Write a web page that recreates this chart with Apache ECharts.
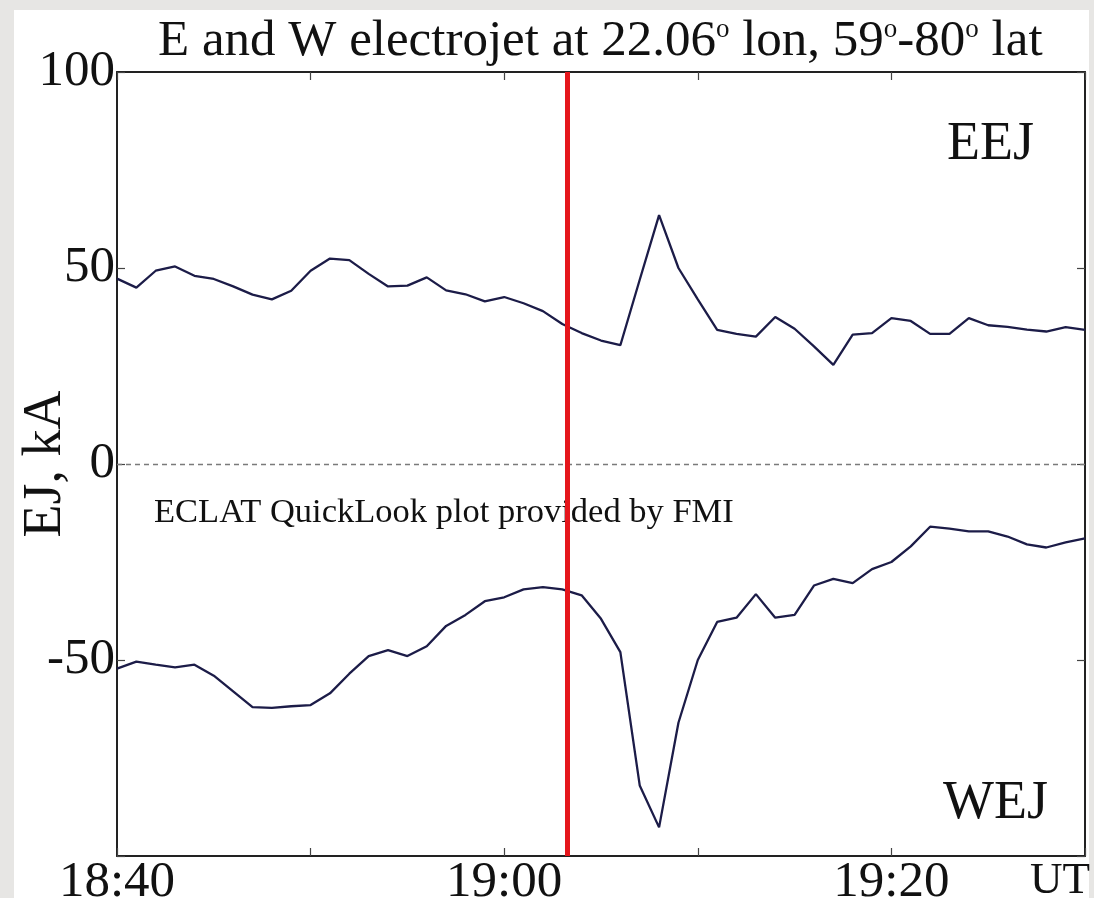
<!DOCTYPE html>
<html>
<head>
<meta charset="utf-8">
<script src="https://cdn.jsdelivr.net/npm/echarts@6/dist/echarts.min.js"></script>
<style>
  html, body { margin: 0; padding: 0; background: #e7e6e4; }
  #paper { position: absolute; left: 14px; top: 10px; width: 1075px; height: 888px; background: #ffffff; }
  #chart { position: absolute; left: 0; top: 0; width: 1094px; height: 898px; }
</style>
</head>
<body>
<div id="paper"></div>
<div id="chart"></div>
<script>
// minutes after 18:40 UT
const minutes = [0,1,2,3,4,5,6,7,8,9,10,11,12,13,14,15,16,17,18,19,20,21,22,23,24,25,26,27,28,29,30,31,32,33,34,35,36,37,38,39,40,41,42,43,44,45,46,47,48,49,50];
// Eastward electrojet (kA)
const eej = [47.3,45.0,49.3,50.4,48.0,47.2,45.3,43.2,42.0,44.2,49.3,52.4,52.0,48.5,45.3,45.5,47.6,44.3,43.3,41.5,42.6,41.0,39.0,35.7,33.4,31.5,30.3,47.0,63.5,50.0,42.0,34.2,33.2,32.5,37.5,34.5,30.0,25.3,33.0,33.4,37.2,36.5,33.2,33.2,37.2,35.4,35.0,34.3,33.8,34.9,34.2];
// Westward electrojet (kA)
const wej = [-52.2,-50.4,-51.2,-51.9,-51.2,-54.0,-58.0,-62.0,-62.2,-61.8,-61.5,-58.5,-53.5,-49.0,-47.5,-49.0,-46.5,-41.3,-38.5,-35.0,-34.0,-32.0,-31.4,-32.0,-33.5,-39.5,-48.0,-82.0,-92.7,-66.0,-50.0,-40.3,-39.2,-33.2,-39.2,-38.5,-31.0,-29.3,-30.4,-26.8,-25.0,-21.0,-16.0,-16.5,-17.2,-17.2,-18.5,-20.5,-21.3,-20.0,-19.0];
// x tick labels (minutes -> text)
const xTickLabels = {0: '18:40', 20: '19:00', 40: '19:20'};
const yTickLabels = {100: '100', 50: '50', 0: '0', '-50': '-50'};
const markerMinute = 23.25; // red vertical marker (~19:03.25 UT)

const serif = "'Liberation Serif', 'DejaVu Serif', serif";
const ink = '#111111';
const curve = '#1c1c48';

const chart = echarts.init(document.getElementById('chart'), null, {renderer: 'canvas'});

const axisCommonX = {
  type: 'value', min: 0, max: 50, interval: 10,
  axisLine: {show: true, onZero: false, lineStyle: {color: '#222', width: 2}},
  axisTick: {show: true, inside: true, length: 8, lineStyle: {color: '#444', width: 1.2}},
  splitLine: {show: false}
};
const axisCommonY = {
  type: 'value', min: -100, max: 100, interval: 50,
  axisLine: {show: true, onZero: false, lineStyle: {color: '#222', width: 2}},
  axisTick: {show: true, inside: true, length: 8, lineStyle: {color: '#444', width: 1.2}},
  splitLine: {show: false}
};

chart.setOption({
  animation: false,
  backgroundColor: 'transparent',
  title: {
    text: 'E and W electrojet at 22.06{s|o} lon, 59{s|o}-80{s|o} lat',
    left: 153, top: 11,
    textStyle: {
      fontFamily: serif, fontSize: 51, fontWeight: 'normal', color: ink,
      rich: {
        s: {fontFamily: serif, fontSize: 27, color: ink, verticalAlign: 'bottom', padding: [0, 0, 25, 0]}
      }
    }
  },
  grid: {left: 117, right: 9, top: 72, bottom: 42, containLabel: false, outerBoundsMode: 'none'},
  xAxis: [
    Object.assign({}, axisCommonX, {
      position: 'bottom',
      axisLabel: {
        show: true, margin: 1, fontFamily: serif, fontSize: 51, color: ink,
        showMinLabel: true, showMaxLabel: true, hideOverlap: false,
        formatter: v => xTickLabels[v] || ''
      }
    }),
    Object.assign({}, axisCommonX, {position: 'top', axisLabel: {show: false}})
  ],
  yAxis: [
    Object.assign({}, axisCommonY, {
      position: 'left',
      name: 'EJ, kA', nameLocation: 'middle', nameRotate: 90, nameGap: 44,
      nameMoveOverlap: false,
      nameTextStyle: {fontFamily: serif, fontSize: 54, color: ink},
      axisLabel: {
        show: true, margin: 2, fontFamily: serif, fontSize: 51, color: ink,
        showMinLabel: true, showMaxLabel: true, hideOverlap: false,
        formatter: v => (yTickLabels[v] !== undefined ? yTickLabels[v] : '')
      }
    }),
    Object.assign({}, axisCommonY, {position: 'right', axisLabel: {show: false}})
  ],
  series: [
    {
      name: 'EEJ', type: 'line', xAxisIndex: 0, yAxisIndex: 0,
      data: minutes.map((m, i) => [m, eej[i]]),
      showSymbol: false, smooth: false,
      lineStyle: {color: curve, width: 2.3},
      z: 3,
      markLine: {
        silent: true, symbol: 'none', label: {show: false},
        data: [
          {yAxis: 0, lineStyle: {type: [5, 4], color: '#7a7a7a', width: 1.3}},
          {xAxis: markerMinute, lineStyle: {type: 'solid', color: '#e5161c', width: 5}}
        ]
      }
    },
    {
      name: 'WEJ', type: 'line', xAxisIndex: 0, yAxisIndex: 0,
      data: minutes.map((m, i) => [m, wej[i]]),
      showSymbol: false, smooth: false,
      lineStyle: {color: curve, width: 2.3},
      z: 3
    }
  ],
  graphic: [
    {type: 'text', left: 947, top: 118, style: {text: 'EEJ', font: "54px 'Liberation Serif', serif", fill: ink}},
    {type: 'text', left: 943, top: 777, style: {text: 'WEJ', font: "54px 'Liberation Serif', serif", fill: ink}},
    {type: 'text', left: 154, top: 495, style: {text: 'ECLAT QuickLook plot provided by FMI', font: "34.5px 'Liberation Serif', serif", fill: ink}},
    {type: 'text', left: 1030, top: 859, style: {text: 'UT', font: "45px 'Liberation Serif', serif", fill: ink}}
  ]
});
</script>
</body>
</html>
